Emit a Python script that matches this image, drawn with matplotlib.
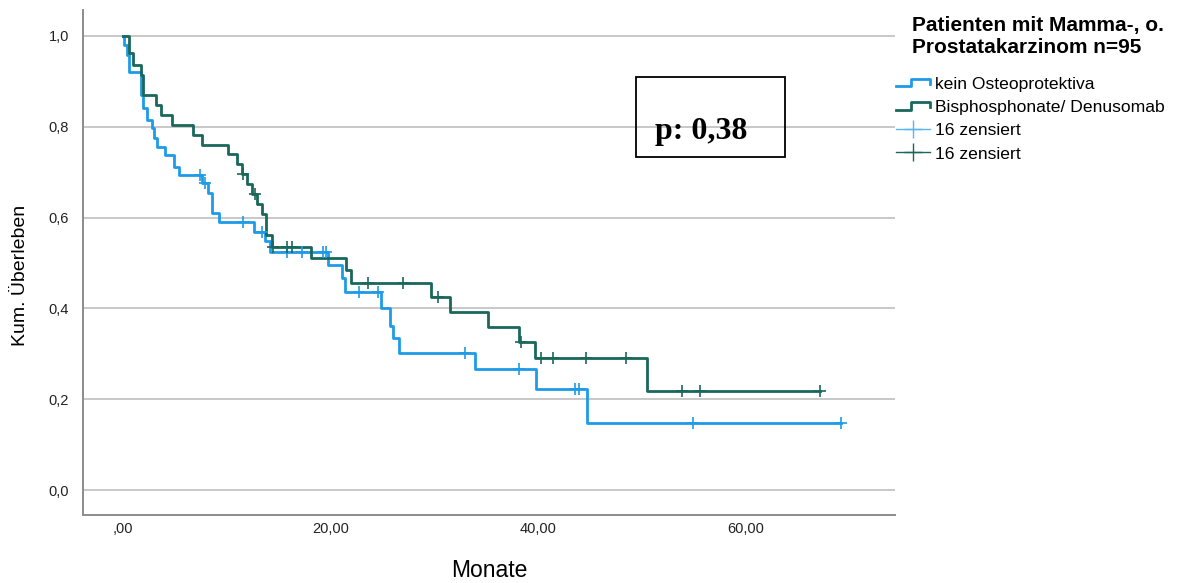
import numpy as np
import matplotlib
matplotlib.use("Agg")
import matplotlib.pyplot as plt
from matplotlib.lines import Line2D
from matplotlib.legend_handler import HandlerBase
from matplotlib.patches import Rectangle

plt.rcParams['font.family'] = ['Liberation Sans', 'DejaVu Sans']

# kein Osteoprotektiva
blue_t = [0, 0.05, 0.35, 0.6, 1.75, 1.95, 2.3, 2.75, 2.95, 3.25, 4.0, 4.95, 5.35,
          7.6, 8.15, 8.55, 9.2, 12.6, 13.7, 14.2, 19.8, 21.1, 21.35, 24.9, 25.75,
          26.05, 26.6, 33.9, 39.8, 44.7, 69.2]
blue_s = [1.0, 0.98, 0.958, 0.921, 0.87, 0.841, 0.815, 0.797, 0.775, 0.756, 0.738,
          0.712, 0.694, 0.676, 0.653, 0.609, 0.591, 0.569, 0.549, 0.525, 0.496,
          0.466, 0.437, 0.400, 0.362, 0.334, 0.301, 0.266, 0.222, 0.147, 0.147]
blue_cens = [7.4, 7.9, 11.6, 13.4, 15.8, 17.2, 19.3, 19.6, 22.7, 24.6, 33.0, 38.2,
             43.6, 43.9, 54.9, 69.2]

# Bisphosphonate/ Denusomab
green_t = [0, 0.6, 1.0, 1.7, 1.95, 3.2, 3.65, 4.7, 6.7, 7.6, 10.15, 10.95, 11.45,
           11.95, 12.45, 12.95, 13.4, 13.75, 14.4, 18.1, 21.5, 22.0, 29.7, 31.5,
           35.2, 38.2, 39.7, 50.5, 67.2]
green_s = [1.0, 0.962, 0.936, 0.914, 0.870, 0.848, 0.826, 0.804, 0.782, 0.760,
           0.739, 0.717, 0.695, 0.673, 0.652, 0.630, 0.608, 0.562, 0.536, 0.510,
           0.484, 0.456, 0.425, 0.393, 0.360, 0.327, 0.290, 0.219, 0.219]
green_cens = [11.6, 12.7, 14.5, 15.8, 16.3, 23.6, 27.0, 30.4, 38.4, 40.3, 41.4,
              44.6, 48.5, 53.9, 55.6, 67.2]

labels = ['kein Osteoprotektiva', 'Bisphosphonate/ Denusomab']
cens_labels = ['16 zensiert', '16 zensiert']
blue = '#1e9be8'
green = '#1a675b'

yticks = [0.0, 0.2, 0.4, 0.6, 0.8, 1.0]
ytick_labels = ['0,0', '0,2', '0,4', '0,6', '0,8', '1,0']
xticks = [0, 20, 40, 60]
xtick_labels = [',00', '20,00', '40,00', '60,00']


def surv_at(t, s, times):
    idx = np.searchsorted(t, times, side='right') - 1
    return np.array(s)[idx]


class StepHandler(HandlerBase):
    def create_artists(self, legend, orig_handle, xdescent, ydescent, width, height,
                       fontsize, trans):
        w, h = width, height
        xs = [-xdescent, 0.45 * w, 0.45 * w, w, w]
        ys = [0.2 * h, 0.2 * h, 0.8 * h, 0.8 * h, 0.4 * h]
        ln = Line2D(xs, ys, color=orig_handle.get_color(), lw=2.0)
        ln.set_transform(trans)
        return [ln]


fig = plt.figure(figsize=(11.89, 5.83), dpi=100)
ax = fig.add_axes([83 / 1189, 68 / 583, 812 / 1189, 505 / 583])

ax.step(blue_t, blue_s, where='post', color=blue, lw=2.0, zorder=3)
ax.step(green_t, green_s, where='post', color=green, lw=2.0, zorder=4)
ax.plot(blue_cens, surv_at(blue_t, blue_s, blue_cens), ls='none', marker='+',
        ms=8, mew=1.2, color=blue, zorder=5)
ax.plot(green_cens, surv_at(green_t, green_s, green_cens), ls='none', marker='+',
        ms=8, mew=1.2, color=green, zorder=6)

ax.set_xlim(-3.86, 74.4)
ax.set_ylim(-0.055, 1.057)
ax.set_yticks(yticks)
ax.set_yticklabels(ytick_labels)
ax.set_xticks(xticks)
ax.set_xticklabels(xtick_labels)
ax.tick_params(length=0, labelsize=10.5, colors='#222222')
ax.tick_params(axis='y', pad=10)
ax.tick_params(axis='x', pad=5)
ax.yaxis.grid(True, color='#c8c8c8', lw=1.4)
ax.set_axisbelow(True)
for side in ['top', 'right']:
    ax.spines[side].set_visible(False)
for side in ['left', 'bottom']:
    ax.spines[side].set_color('#8c8c8c')
    ax.spines[side].set_linewidth(1.4)

ax.set_ylabel('Kum. Überleben', fontsize=14)
ax.yaxis.set_label_coords(-0.0665, 0.475)
ax.set_xlabel('Monate', fontsize=16.5)
ax.xaxis.set_label_coords(0.5, -0.088)

handles = [Line2D([], [], color=blue), Line2D([], [], color=green),
           Line2D([], [], color='#5ab4f0', marker='+', ms=13, mew=1.0, lw=1.0),
           Line2D([], [], color=green, marker='+', ms=13, mew=1.0, lw=1.0)]
leg = fig.legend(handles, labels + cens_labels,
                 title='Patienten mit Mamma-, o.\nProstatakarzinom n=95',
                 title_fontproperties={'weight': 'bold', 'size': 15},
                 loc='upper left', bbox_to_anchor=(896 / 1189, 1 - 16 / 583),
                 frameon=False, fontsize=12.6, handlelength=1.95, handletextpad=0.25,
                 labelspacing=0.46, borderaxespad=0, borderpad=0,
                 handler_map={handles[0]: StepHandler(), handles[1]: StepHandler()})
leg._legend_box.sep = 14
leg.set_alignment('right')

fig.patches.append(Rectangle((636 / 1189, 1 - 157 / 583), 149 / 1189, 80 / 583,
                             transform=fig.transFigure, fill=False, ec='black',
                             lw=1.3))
fig.text(701 / 1189, 1 - 132 / 583, 'p: 0,38', family=['Liberation Serif'],
         fontsize=23, weight='bold', ha='center', va='center')

fig.savefig('out.png', dpi=100)
